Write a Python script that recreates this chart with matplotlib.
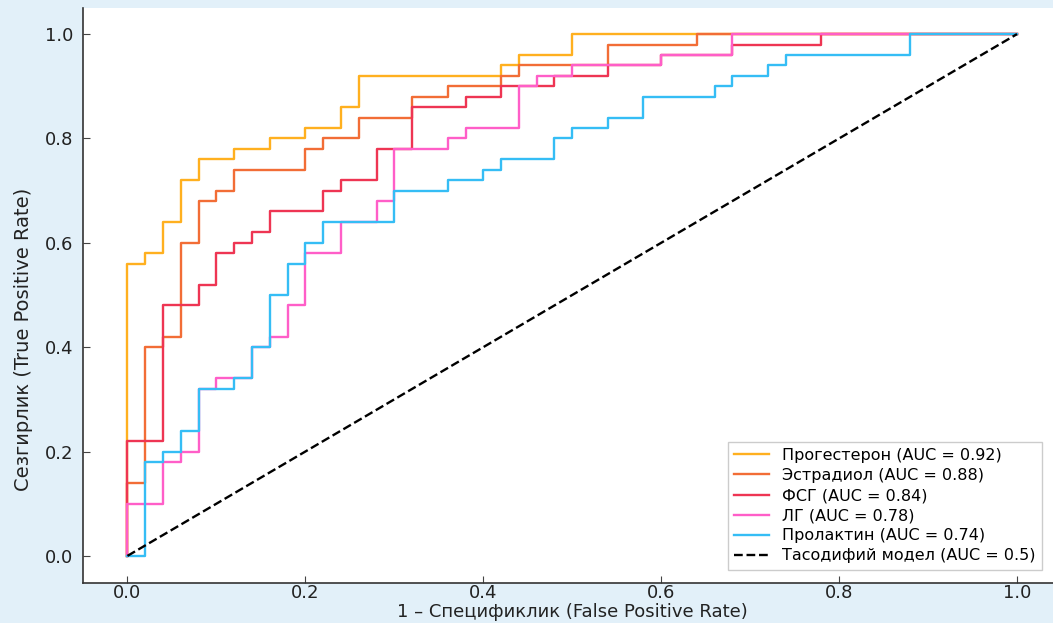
import matplotlib
matplotlib.use('Agg')
from matplotlib import pyplot as plt

plt.rcParams['font.family'] = ['DejaVu Sans']

# Данные ROC-кривых (точки скачков, рисуются ступенькой)
names = ['Прогестерон', 'Эстрадиол', 'ФСГ', 'ЛГ', 'Пролактин']
auc_values = [0.92, 0.88, 0.84, 0.78, 0.74]

fpr_prog = [0, 0, 0.02, 0.04, 0.06, 0.08, 0.12, 0.16, 0.20, 0.24, 0.26, 0.42, 0.44, 0.50, 1.0]
tpr_prog = [0, 0.56, 0.58, 0.64, 0.72, 0.76, 0.78, 0.80, 0.82, 0.86, 0.92, 0.94, 0.96, 1.0, 1.0]

fpr_estr = [0, 0, 0.02, 0.04, 0.06, 0.08, 0.10, 0.12, 0.20, 0.22, 0.26, 0.32, 0.36, 0.42, 0.44, 0.54, 0.64, 1.0]
tpr_estr = [0, 0.14, 0.40, 0.42, 0.60, 0.68, 0.70, 0.74, 0.78, 0.80, 0.84, 0.88, 0.90, 0.92, 0.94, 0.98, 1.0, 1.0]

fpr_fsh = [0, 0, 0.04, 0.08, 0.10, 0.12, 0.14, 0.16, 0.22, 0.24, 0.28, 0.32, 0.38, 0.42, 0.48, 0.54, 0.60, 0.68, 0.78, 1.0]
tpr_fsh = [0, 0.22, 0.48, 0.52, 0.58, 0.60, 0.62, 0.66, 0.70, 0.72, 0.78, 0.86, 0.88, 0.90, 0.92, 0.94, 0.96, 0.98, 1.0, 1.0]

fpr_lh = [0, 0, 0.04, 0.06, 0.08, 0.10, 0.14, 0.16, 0.18, 0.20, 0.24, 0.28, 0.30, 0.36, 0.38, 0.44, 0.46, 0.50, 0.60, 0.68, 1.0]
tpr_lh = [0, 0.10, 0.18, 0.20, 0.32, 0.34, 0.40, 0.42, 0.48, 0.58, 0.64, 0.68, 0.78, 0.80, 0.82, 0.90, 0.92, 0.94, 0.96, 1.0, 1.0]

fpr_prl = [0, 0.02, 0.04, 0.06, 0.08, 0.12, 0.14, 0.16, 0.18, 0.20, 0.22, 0.30, 0.36, 0.40, 0.42, 0.48, 0.50, 0.54, 0.58, 0.66, 0.68, 0.72, 0.74, 0.88, 1.0]
tpr_prl = [0, 0.18, 0.20, 0.24, 0.32, 0.34, 0.40, 0.50, 0.56, 0.60, 0.64, 0.70, 0.72, 0.74, 0.76, 0.80, 0.82, 0.84, 0.88, 0.90, 0.92, 0.94, 0.96, 1.0, 1.0]

fprs = [fpr_prog, fpr_estr, fpr_fsh, fpr_lh, fpr_prl]
tprs = [tpr_prog, tpr_estr, tpr_fsh, tpr_lh, tpr_prl]
colors = ['#FFB01F', '#F26D36', '#EE3553', '#FF5EC8', '#35BDF5']

fig = plt.figure(figsize=(10.53, 6.23), dpi=100, facecolor='#e2f0f9')
ax = fig.add_axes([83 / 1053, 40 / 623, 978.5 / 1053, 575 / 623])
ax.set_facecolor('white')

for name, auc, fpr, tpr, c in zip(names, auc_values, fprs, tprs, colors):
    ax.plot(fpr, tpr, drawstyle='steps-post', color=c, lw=1.7,
            label=f'{name} (AUC = {auc:.2f})')

ax.plot([0, 1], [0, 1], '--', color='black', lw=1.7, label='Тасодифий модел (AUC = 0.5)')

ax.set_xlim(-0.05, 1.05)
ax.set_ylim(-0.052, 1.05)
ax.set_xticks([0, 0.2, 0.4, 0.6, 0.8, 1.0])
ax.set_yticks([0, 0.2, 0.4, 0.6, 0.8, 1.0])
ax.tick_params(direction='in', length=5, colors='#444444', labelsize=13, labelcolor='#222222', pad=1)
ax.tick_params(axis='y', pad=7)
ax.spines['top'].set_visible(False)
ax.spines['right'].set_visible(False)
for s in ['left', 'bottom']:
    ax.spines[s].set_color('#333333')
    ax.spines[s].set_linewidth(1.2)

ax.set_xlabel('1 – Спецификлик (False Positive Rate)', fontsize=13, color='#222222', labelpad=0.5)
ax.set_ylabel('Сезгирлик (True Positive Rate)', fontsize=14, color='#222222')
ax.yaxis.set_label_coords(-0.051, 0.423)

ax.legend(loc='lower right', bbox_to_anchor=(0.988, 0.009), fontsize=11.5,
          frameon=True, fancybox=False, edgecolor='#cccccc', framealpha=1,
          handlelength=2.2, labelspacing=0.32, borderpad=0.4)

fig.savefig('out.png', dpi=100, facecolor=fig.get_facecolor())
